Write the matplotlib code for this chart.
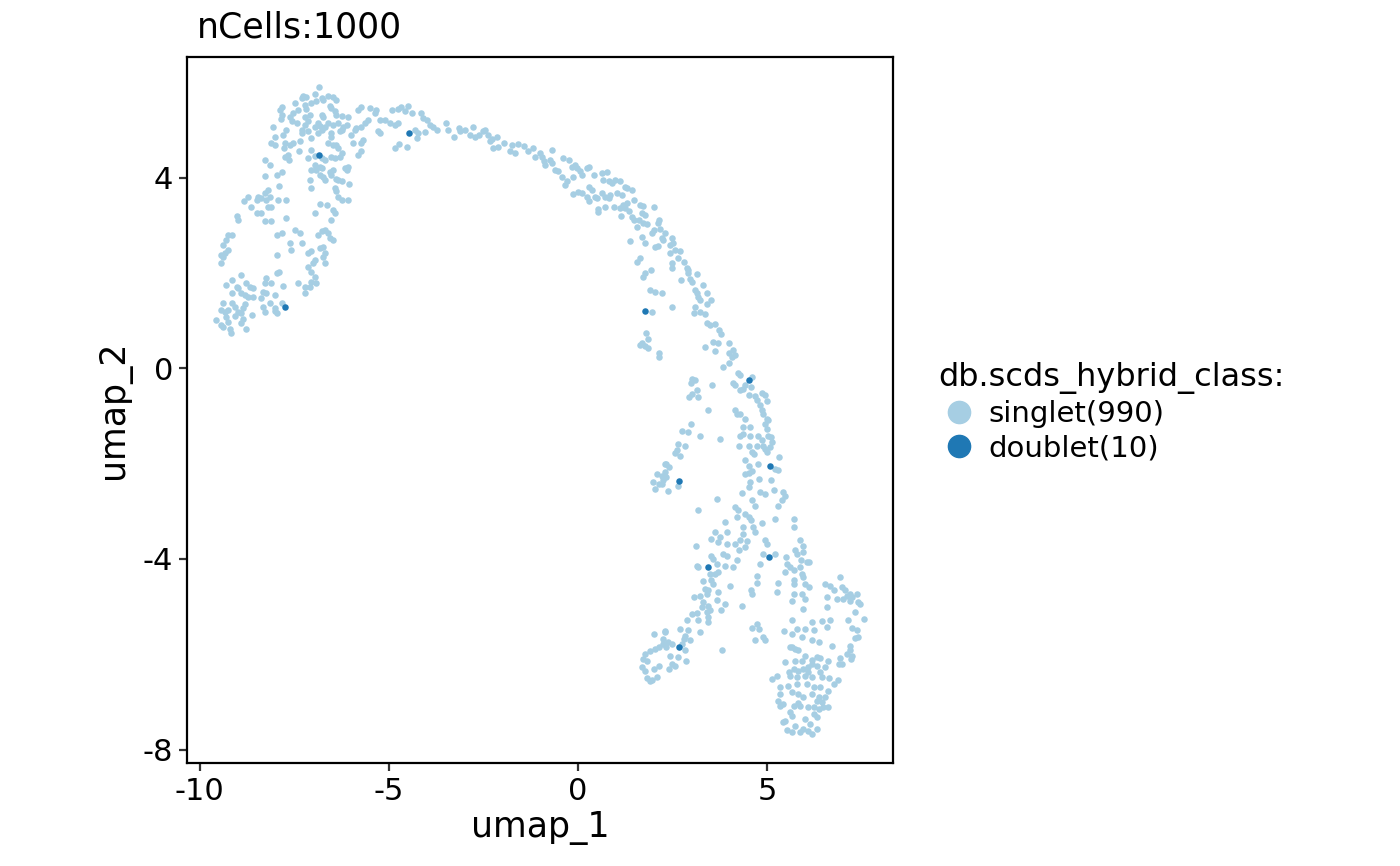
import numpy as np
import matplotlib
matplotlib.use("Agg")
import matplotlib.pyplot as plt
from matplotlib.lines import Line2D

plt.rcParams["font.family"] = ["DejaVu Sans"]
plt.rcParams["axes.unicode_minus"] = False

# UMAP coordinates, grouped by region
left_lobe = [
    (-6.85, 5.90), (-7.27, 5.71), (-7.31, 5.66), (-7.18, 5.69), (-6.96, 5.75), (-6.78, 5.66), (-6.62, 5.71),
    (-6.47, 5.69), (-6.39, 5.62), (-7.49, 5.57), (-7.22, 5.52), (-7.05, 5.57), (-6.92, 5.60), (-6.74, 5.62),
    (-6.56, 5.50), (-6.52, 5.46), (-6.43, 5.39), (-7.84, 5.49), (-7.89, 5.41), (-7.82, 5.32), (-7.86, 5.22),
    (-7.62, 5.27), (-7.53, 5.35), (-7.40, 5.42), (-7.18, 5.43), (-7.22, 5.28), (-7.09, 5.32), (-6.78, 5.32),
    (-6.74, 5.28), (-6.41, 5.32), (-6.25, 5.29), (-6.08, 5.27), (-5.81, 5.42), (-5.73, 5.49), (-5.50, 5.46),
    (-5.33, 5.42), (-5.37, 5.35), (-4.93, 5.42), (-4.76, 5.43), (-4.67, 5.49), (-4.49, 5.50), (-4.58, 5.39),
    (-4.40, 5.35), (-4.14, 5.35), (-4.09, 5.25), (-4.00, 5.21), (-3.92, 5.11), (-3.83, 5.07), (-4.30, 5.00),
    (-4.23, 4.93), (-4.05, 4.96), (-4.27, 4.83), (-4.73, 4.71), (-4.84, 4.62), (-4.53, 4.65),
    (-5.55, 5.21), (-5.64, 5.14), (-5.73, 5.07), (-5.86, 5.04), (-5.90, 5.00), (-6.12, 5.11), (-6.21, 5.07),
    (-6.36, 5.14), (-6.47, 5.11), (-6.61, 5.14), (-6.87, 5.14), (-6.96, 5.07), (-7.14, 5.18), (-7.22, 5.11),
    (-7.31, 5.00), (-7.44, 5.14), (-7.56, 5.18), (-7.71, 5.00), (-7.80, 4.90), (-8.02, 4.86), (-8.06, 5.07),
    (-8.11, 4.72), (-8.02, 4.69), (-7.75, 4.72), (-7.77, 4.62), (-7.62, 4.69), (-7.53, 4.72), (-7.36, 4.76),
    (-7.31, 4.93), (-7.14, 4.97), (-7.05, 4.83), (-6.87, 4.93), (-6.78, 5.00), (-6.69, 5.07), (-6.52, 4.93),
    (-6.52, 4.86), (-6.30, 4.97), (-6.25, 5.00), (-5.99, 4.90), (-5.95, 4.72), (-5.73, 4.72), (-5.68, 4.79),
    (-5.28, 4.97), (-5.24, 4.93), (-4.97, 5.14), (-5.11, 5.21), (-5.24, 5.21), (-4.84, 5.11), (-4.76, 5.14),
    (-5.73, 4.55), (-5.81, 4.48), (-6.39, 4.69), (-6.34, 4.62), (-6.47, 4.69), (-6.61, 4.72), (-6.25, 4.51),
    (-6.30, 4.44), (-6.43, 4.41), (-6.52, 4.44), (-6.69, 4.37), (-6.78, 4.41), (-6.96, 4.45), (-7.05, 4.58),
    (-7.15, 4.41), (-7.37, 4.56), (-7.67, 4.48), (-7.75, 4.44), (-7.64, 4.37), (-8.28, 4.36), (-8.15, 4.27),
    (-8.28, 4.03), (-7.97, 4.05), (-7.84, 4.12), (-7.91, 3.82), (-8.19, 3.74), (-8.28, 3.67), (-8.46, 3.60),
    (-8.37, 3.57), (-8.24, 3.52), (-8.15, 3.60), (-8.50, 3.53), (-8.72, 3.60), (-8.83, 3.50), (-8.64, 3.39),
    (-8.19, 3.38), (-8.11, 3.39), (-7.93, 3.54), (-7.71, 3.54), (-8.49, 3.26), (-8.37, 3.26), (-8.28, 3.10),
    (-8.11, 3.08), (-7.73, 3.15), (-9.03, 3.19), (-8.99, 3.12), (-6.83, 5.08),
    (-6.96, 4.27), (-6.83, 4.22), (-6.78, 4.20), (-6.94, 4.16), (-7.05, 4.15), (-6.83, 4.05), (-6.74, 4.02),
    (-6.69, 3.95), (-6.56, 4.12), (-6.52, 4.05), (-6.39, 3.98), (-6.34, 3.95), (-6.25, 3.92), (-6.06, 3.87),
    (-6.12, 4.16), (-6.08, 4.23), (-6.17, 4.20), (-6.47, 4.16), (-7.09, 3.96), (-7.05, 3.78), (-6.43, 3.78),
    (-6.39, 3.71), (-6.34, 3.60), (-6.25, 3.53), (-6.08, 3.53), (-6.83, 3.45), (-6.65, 3.43), (-6.96, 3.25),
    (-6.47, 3.32), (-6.43, 3.25), (-6.52, 3.11), (-6.69, 2.90), (-6.61, 2.83), (-6.56, 2.73), (-6.47, 2.69),
    (-6.78, 2.87), (-6.87, 2.80), (-6.74, 2.55), (-6.83, 2.52), (-6.69, 2.41), (-6.74, 2.34), (-6.69, 2.20),
    (-6.96, 2.27), (-7.05, 2.45), (-7.14, 2.41), (-7.00, 2.20), (-7.14, 2.13), (-7.05, 2.03), (-6.96, 1.92),
    (-7.05, 1.82), (-6.92, 1.78), (-7.09, 1.71), (-7.22, 1.71), (-7.22, 1.57), (-7.40, 1.79), (-7.49, 2.91),
    (-7.36, 2.83), (-7.31, 2.62), (-7.62, 2.62), (-7.58, 2.48), (-7.84, 2.84), (-7.95, 2.80), (-7.97, 2.38),
    (-9.25, 2.80), (-9.16, 2.80), (-9.30, 2.69), (-9.38, 2.58), (-9.25, 2.48), (-9.34, 2.41), (-9.43, 2.38),
    (-9.38, 2.34), (-9.45, 2.21), (-8.92, 1.96), (-9.15, 1.86), (-9.30, 1.75), (-9.03, 1.71), (-8.99, 1.68),
    (-8.77, 1.78), (-8.68, 1.71), (-8.59, 1.68), (-8.90, 1.57), (-9.16, 1.57), (-8.81, 1.54), (-8.72, 1.50),
    (-8.59, 1.50), (-8.33, 1.61), (-8.24, 1.89), (-8.28, 1.78), (-8.11, 1.78), (-7.97, 1.99), (-7.91, 2.03),
    (-7.80, 1.72), (-8.24, 1.57), (-8.37, 1.47), (-8.02, 1.54), (-9.38, 1.36), (-9.16, 1.37), (-9.08, 1.29),
    (-8.81, 1.35), (-8.86, 1.26), (-8.33, 1.29), (-8.15, 1.36), (-8.02, 1.26), (-7.84, 1.36), (-9.43, 1.23),
    (-9.25, 1.22), (-9.56, 1.02), (-9.43, 0.90), (-9.38, 0.87), (-9.32, 1.08), (-9.25, 0.97), (-9.21, 0.83),
    (-9.18, 0.74), (-9.34, 1.18), (-9.08, 1.09), (-8.99, 1.18), (-8.92, 1.16), (-8.90, 0.95), (-8.86, 1.04),
    (-8.77, 0.82), (-8.61, 1.11), (-8.28, 1.18), (-8.02, 1.20), (-7.97, 1.16),
]

upper_arc = [
    (-3.74, 5.00), (-3.50, 5.15), (-3.43, 5.00), (-3.29, 4.86), (-3.16, 5.04), (-3.12, 4.97), (-2.99, 5.00),
    (-2.85, 4.90), (-2.77, 5.07), (-2.72, 4.85), (-2.63, 4.90), (-2.50, 4.97), (-2.46, 4.99), (-2.37, 4.90),
    (-2.32, 4.76), (-2.28, 4.80), (-2.26, 4.62), (-2.15, 4.86), (-2.12, 4.65), (-1.97, 4.72), (-1.75, 4.69),
    (-1.80, 4.55), (-1.66, 4.51), (-1.58, 4.71), (-1.44, 4.66), (-1.31, 4.55), (-1.18, 4.62), (-1.13, 4.43),
    (-1.00, 4.51), (-0.96, 4.44), (-0.91, 4.34), (-0.87, 4.27), (-0.74, 4.37), (-0.68, 4.57), (-0.68, 4.30),
    (-0.61, 4.16), (-0.52, 4.13), (-0.43, 4.02), (-0.39, 4.41), (-0.25, 4.37), (-0.30, 3.92), (-0.34, 3.85),
    (-0.16, 4.23), (-0.08, 4.27), (-0.03, 4.20), (-0.12, 4.02), (0.05, 4.13), (0.10, 4.05), (0.23, 4.20),
    (0.28, 4.22), (0.41, 4.05), (0.63, 4.09), (0.76, 4.12), (0.67, 3.95), (0.81, 3.92), (0.89, 3.88),
    (0.98, 3.95), (1.11, 3.92), (1.16, 3.64), (1.03, 3.67), (1.25, 3.81), (1.29, 3.78), (1.42, 3.75),
    (-0.12, 3.66), (0.01, 3.70), (0.10, 3.67), (0.23, 3.60), (0.28, 3.81), (0.28, 3.50), (0.37, 3.74),
    (0.45, 3.60), (0.50, 3.57), (0.63, 3.67), (0.72, 3.60), (0.81, 3.57), (0.85, 3.64), (0.54, 3.35),
    (0.54, 3.28), (0.72, 3.39), (0.94, 3.39), (1.11, 3.36), (1.14, 3.19), (1.20, 3.43), (1.25, 3.36),
    (1.29, 3.46), (1.34, 3.29), (1.42, 3.18), (1.47, 3.11), (1.49, 3.53), (1.64, 3.43), (1.73, 3.40),
    (1.69, 3.26), (1.78, 3.22), (2.00, 3.39), (1.56, 2.97), (1.60, 3.11), (1.73, 3.04), (1.82, 3.03),
    (1.95, 2.83), (2.00, 2.90), (2.11, 3.04), (2.13, 3.11), (2.17, 2.93), (2.22, 2.73), (2.26, 2.69),
    (1.69, 2.76), (1.78, 2.63), (2.04, 2.55), (2.11, 2.56), (1.38, 2.68), (1.56, 2.24), (1.64, 2.31),
    (1.78, 1.99), (1.73, 1.92), (1.93, 2.06), (1.90, 1.64), (2.04, 1.61), (2.22, 1.57),
    (2.30, 2.83), (2.48, 2.73), (2.52, 2.62), (2.43, 2.58), (2.56, 2.48), (2.70, 2.47), (2.43, 2.41),
    (2.65, 2.31), (2.79, 2.24), (2.49, 2.20), (2.48, 2.10), (2.87, 2.10), (2.92, 2.06), (2.92, 1.99),
    (3.16, 1.97), (2.72, 1.85), (2.96, 1.88), (3.01, 1.81), (3.31, 1.75), (3.09, 1.64), (3.14, 1.57),
    (3.40, 1.57), (3.18, 1.50), (3.53, 1.43), (3.23, 1.43), (3.40, 1.34), (3.09, 1.29), (2.48, 1.28),
]

descending_band = [
    (3.08, 1.16), (3.23, 1.19), (3.36, 1.14), (3.40, 0.95), (3.49, 0.90), (3.62, 0.93), (3.73, 0.80),
    (3.78, 0.72), (3.58, 0.56), (3.71, 0.52), (3.98, 0.53), (3.36, 0.44), (3.62, 0.37), (3.98, 0.32),
    (4.11, 0.39), (4.15, 0.27), (4.06, 0.24), (3.98, 0.11), (3.84, 0.03), (4.24, -0.10), (4.28, -0.15),
    (4.61, -0.18), (4.11, -0.31), (4.15, -0.36), (4.28, -0.46), (4.37, -0.43), (4.42, -0.36), (4.58, -0.39),
    (4.51, -0.57), (4.68, -0.59), (4.73, -0.66), (4.86, -0.52), (4.95, -0.57), (4.99, -0.68), (4.81, -0.78),
    (4.86, -0.87), (4.90, -0.96), (4.99, -1.06), (5.03, -1.08), (4.95, -1.16), (4.99, -1.27), (5.03, -1.41),
    (5.10, -1.44), (5.12, -1.55), (4.77, -1.41), (4.86, -1.51), (4.73, -1.62), (4.90, -1.62), (4.95, -1.69),
    (4.99, -1.76), (5.08, -1.65), (4.61, -1.76), (4.66, -1.80), (5.32, -1.87), (4.42, -1.93), (4.51, -2.04),
    (4.77, -2.00), (5.21, -2.11), (5.30, -2.13), (4.42, -2.21), (4.51, -2.20), (4.59, -2.16), (4.79, -2.32),
    (5.10, -2.34), (4.55, -2.39), (4.51, -2.49), (4.33, -2.62), (4.81, -2.60), (4.95, -2.63), (5.17, -2.56),
    (5.43, -2.60), (5.47, -2.67), (5.39, -2.77), (5.30, -2.88), (4.59, -2.76), (4.68, -2.88), (4.15, -2.92),
    (4.20, -3.12), (4.24, -2.98), (4.42, -3.05), (4.51, -3.12), (4.58, -3.18), (4.37, -3.32), (4.64, -3.33),
    (4.68, -3.44), (4.86, -3.25), (5.21, -3.16), (5.70, -3.16), (5.70, -3.33), (5.87, -3.61), (3.89, -3.22),
    (3.62, -3.44), (3.76, -3.53), (3.93, -3.44), (3.53, -3.58), (4.37, -3.47), (4.28, -3.61), (4.15, -0.88),
    (4.20, -0.95), (4.28, -0.95), (4.42, -1.06), (4.37, -1.23), (4.55, -1.23), (4.28, -1.41), (4.37, -1.37),
    (4.55, -1.41), (4.26, -1.62), (4.51, -1.62), (3.01, -0.22), (3.09, -0.25), (2.99, -0.31), (3.55, -0.36),
    (3.14, -0.45), (3.01, -0.53), (2.93, -0.61), (3.18, -0.61), (3.45, -0.87), (2.99, -1.17), (2.74, -1.31),
    (2.90, -1.34), (3.23, -1.41), (3.76, -1.48), (2.65, -1.58), (2.83, -1.62), (2.61, -1.72), (2.56, -1.78),
    (2.70, -1.85), (2.34, -2.00), (2.41, -2.07), (2.30, -2.18), (2.34, -2.28), (2.64, -2.46), (2.37, -2.57),
    (3.67, -2.74), (3.18, -2.97),
    (1.95, 1.18), (1.79, 0.73), (1.85, 0.62), (1.69, 0.52), (1.64, 0.49), (1.78, 0.46), (1.85, 0.42),
    (2.15, 0.32), (2.15, 0.24), (2.30, -2.01), (2.08, -2.21), (2.22, -2.25), (1.99, -2.39), (2.13, -2.42),
    (2.22, -2.43), (2.04, -2.53), (2.26, -2.35),
]

lower_left_arm = [
    (2.00, -5.57), (2.29, -5.51), (2.26, -5.78), (2.13, -5.85), (2.04, -5.89), (1.91, -5.93), (1.78, -5.99),
    (1.73, -6.10), (1.82, -6.13), (1.69, -6.27), (1.78, -6.34), (2.02, -6.31), (2.15, -6.24), (1.82, -6.49),
    (1.95, -6.54), (2.08, -6.48), (1.91, -6.55), (2.26, -5.68),
    (3.11, -3.72), (3.71, -3.65), (3.93, -3.68), (4.15, -3.69), (4.42, -3.74), (4.26, -3.81), (4.46, -3.62),
    (3.18, -4.17), (3.14, -4.14), (3.53, -3.93), (3.58, -4.00), (3.84, -3.89), (3.93, -3.93), (3.67, -4.10),
    (3.89, -4.14), (4.11, -4.17), (4.20, -4.03), (3.69, -4.28), (3.62, -4.31), (3.49, -4.31), (3.31, -4.46),
    (3.53, -4.45), (3.58, -4.52), (3.36, -4.63), (3.43, -4.66), (3.40, -4.73), (3.71, -4.70), (4.02, -4.56),
    (3.08, -4.79), (3.23, -4.77), (3.31, -4.91), (3.27, -5.01), (3.45, -4.98), (3.49, -5.08), (3.40, -5.12),
    (3.67, -4.86), (3.78, -5.08), (3.89, -4.95), (3.45, -5.22), (3.45, -5.33), (3.01, -5.15), (3.14, -5.14),
    (3.18, -5.29), (2.87, -5.28), (3.23, -5.54), (2.92, -5.49), (2.70, -5.47), (2.83, -5.61), (2.79, -5.68),
    (2.96, -5.71), (2.74, -5.79), (2.48, -5.78), (2.37, -5.75), (2.34, -5.84), (2.83, -5.92), (2.65, -6.06),
    (2.43, -6.03), (2.48, -6.20), (2.41, -6.31), (2.56, -6.24), (2.85, -6.14), (3.82, -5.91), (2.30, -5.54),
    (4.90, -3.89), (5.21, -3.89), (4.81, -4.10), (4.99, -3.69), (4.95, -3.61), (4.73, -4.35), (4.73, -4.51),
    (4.58, -4.65), (4.61, -4.73), (4.35, -4.98), (4.59, -5.44), (4.73, -5.36), (4.79, -5.47), (4.68, -5.70),
    (4.90, -5.64), (4.95, -5.70),
]

lower_right_blob = [
    (5.30, -4.51), (5.25, -4.70), (5.47, -4.28), (5.52, -4.10), (5.61, -4.17), (5.70, -4.24), (5.49, -3.96),
    (5.78, -3.89), (5.74, -3.82), (5.96, -3.72), (5.96, -3.86), (5.90, -4.03), (6.05, -4.07), (6.11, -4.07),
    (5.87, -4.16), (5.92, -4.32), (5.96, -4.38), (5.70, -4.45), (5.72, -4.52), (6.00, -4.52), (6.11, -4.58),
    (5.72, -4.73), (5.65, -4.88), (5.92, -4.73), (6.00, -4.84), (5.96, -5.05), (6.18, -5.33), (6.45, -5.30),
    (6.00, -5.47), (6.23, -5.49), (5.65, -5.29), (5.78, -5.47), (5.65, -5.57), (5.46, -5.51), (5.92, -5.64),
    (6.18, -5.71), (6.37, -5.75), (6.71, -5.82), (5.65, -5.84), (5.74, -5.89), (5.83, -5.91), (5.61, -5.85),
    (5.74, -6.13), (5.92, -6.14), (6.00, -6.03), (6.18, -6.12), (6.31, -6.06), (6.40, -6.07), (6.62, -6.14),
    (6.53, -6.27), (6.40, -6.38), (6.31, -6.24), (6.18, -6.20), (6.09, -6.27), (5.96, -6.31), (5.83, -6.34),
    (5.70, -6.31), (5.58, -6.38), (5.47, -6.17), (5.61, -6.45), (5.78, -6.48), (6.00, -6.45), (6.09, -6.38),
    (6.20, -6.48), (6.45, -6.48), (6.64, -6.49), (6.87, -6.54), (6.76, -6.62), (5.25, -6.45), (5.14, -6.52),
    (5.34, -6.69), (5.56, -6.66), (5.78, -6.63), (6.05, -6.63), (6.23, -6.69), (6.40, -6.69), (6.60, -6.76),
    (5.34, -6.83), (5.65, -6.80), (5.83, -6.83), (5.96, -6.90), (6.18, -6.83), (6.36, -6.90), (6.53, -6.90),
    (6.31, -6.98), (6.45, -7.01), (6.62, -7.11), (6.49, -7.11), (6.36, -7.15), (6.23, -7.11), (6.09, -7.11),
    (5.83, -7.03), (5.87, -7.08), (5.30, -6.98), (5.34, -7.08), (5.43, -7.04), (5.70, -7.08), (5.61, -7.22),
    (5.65, -7.29), (5.47, -7.39), (5.43, -7.43), (5.74, -7.50), (5.65, -7.64), (5.52, -7.59), (5.87, -7.64),
    (6.00, -7.36), (6.23, -7.25), (6.31, -7.32), (6.14, -7.46), (6.09, -7.60), (6.18, -7.67), (6.31, -7.57),
    (5.96, -7.57), (6.58, -5.43), (6.67, -5.29), (6.53, -4.52), (6.67, -4.56), (6.76, -4.66), (6.93, -4.38),
    (6.97, -4.59), (7.06, -4.66), (7.11, -4.77), (7.19, -4.73), (7.24, -4.80), (7.37, -4.73), (7.41, -4.91),
    (7.46, -4.94), (6.84, -4.84), (6.58, -4.80), (6.58, -5.01), (7.33, -5.12), (7.55, -5.26), (7.15, -5.29),
    (7.24, -5.44), (7.37, -5.50), (7.33, -5.65), (7.41, -5.64), (7.19, -5.82), (7.19, -5.92), (7.11, -5.99),
    (7.24, -6.03), (7.22, -6.10), (6.93, -6.07), (6.89, -6.20), (6.97, -6.20), (7.19, -4.88), (7.02, -4.84),
]

doublet_x = [-6.85, -4.47, -7.75, 1.77, 4.52, 5.08, 2.67, 3.44, 5.05, 2.67]
doublet_y = [4.47, 4.94, 1.28, 1.20, -0.25, -2.04, -2.37, -4.16, -3.95, -5.84]

class_labels = ["singlet(990)", "doublet(10)"]
class_colors = ["#A6CEE3", "#1F78B4"]

singlets = np.array(left_lobe + upper_arc + descending_band + lower_left_arm + lower_right_blob)

fig = plt.figure(figsize=(14, 8.66), dpi=100)
ax = fig.add_axes([187 / 1400, 1 - 763 / 866, (893 - 187) / 1400, (763 - 57) / 866])

ax.scatter(singlets[:, 0], singlets[:, 1], s=22, color=class_colors[0], linewidths=0, zorder=2)
ax.scatter(doublet_x, doublet_y, s=22, color=class_colors[1], linewidths=0, zorder=3)

ax.set_xlim(-10.34, 8.33)
ax.set_ylim(-8.28, 6.53)
ax.set_xticks([-10, -5, 0, 5])
ax.set_yticks([-8, -4, 0, 4])
ax.tick_params(axis="both", labelsize=22, length=6, width=1.6, pad=4, colors="#333333", labelcolor="black")
for side in ax.spines.values():
    side.set_linewidth(1.6)
    side.set_color("black")

ax.set_xlabel("umap_1", fontsize=25, labelpad=4)
ax.set_ylabel("umap_2", fontsize=25, labelpad=8)
fig.text(197 / 1400, 1 - 28 / 866, "nCells:1000", fontsize=25, va="center", ha="left")

handles = [Line2D([], [], marker="o", linestyle="", markersize=16, color=c) for c in class_colors]
leg = fig.legend(handles, class_labels, title="db.scds_hybrid_class:", loc="center left",
                 bbox_to_anchor=(924 / 1400, 1 - 412 / 866), frameon=False, fontsize=21,
                 title_fontsize=23, handletextpad=0.3, labelspacing=0.22, borderpad=0,
                 handlelength=1.4)
leg._legend_box.align = "left"

fig.savefig("out.png", dpi=100)
